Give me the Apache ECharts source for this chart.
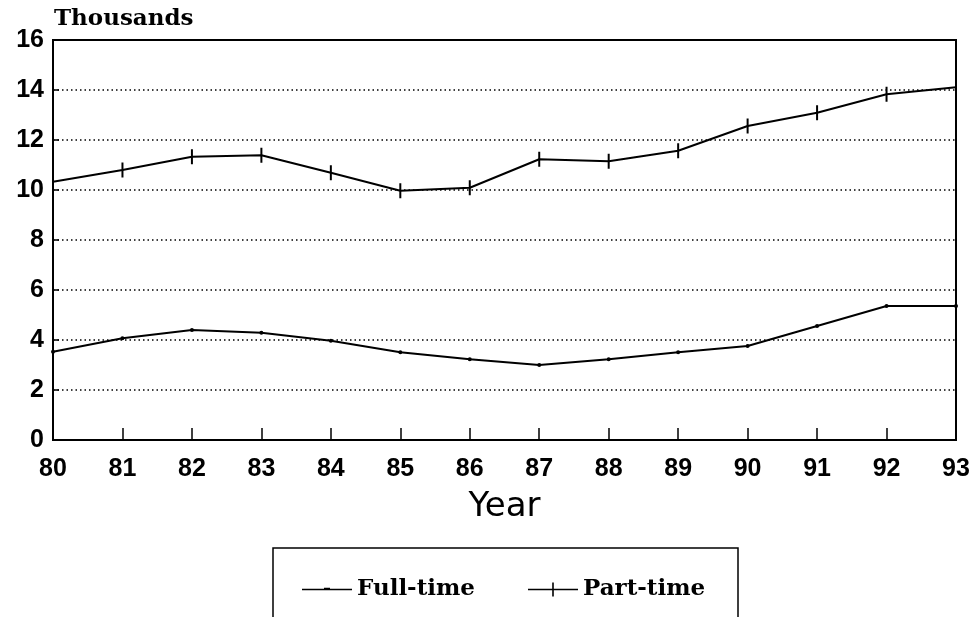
<!DOCTYPE html>
<html>
<head>
<meta charset="utf-8">
<script src="https://cdn.jsdelivr.net/npm/echarts@6/dist/echarts.min.js"></script>
<style>
  html, body { margin: 0; padding: 0; background: #fff; }
  #chart { width: 973px; height: 617px; }
</style>
</head>
<body>
<div id="chart"></div>
<script>
  // years 80..93, values in thousands
  var years = [80, 81, 82, 83, 84, 85, 86, 87, 88, 89, 90, 91, 92, 93];
  var fullTime = [3.53, 4.07, 4.4, 4.29, 3.97, 3.51, 3.23, 3.0, 3.23, 3.51, 3.76, 4.56, 5.36, 5.36];
  var partTime = [10.33, 10.8, 11.33, 11.39, 10.69, 9.97, 10.09, 11.23, 11.15, 11.57, 12.56, 13.09, 13.83, 14.11];
  var yTicks = [0, 2, 4, 6, 8, 10, 12, 14, 16];

  var myChart = echarts.init(document.getElementById('chart'));

  function pairs(vals) {
    return years.map(function (y, i) { return [y, vals[i]]; });
  }

  // legend icons: line + small dot / line + vertical tick (50x14 box)
  var fullIcon = 'path://M0,0L0.01,0L0,0.01Z M0,14L0.01,14L0,13.99Z M0,6.2L50,6.2L50,7.8L0,7.8Z M22,5.2L28,5.2L28,6.2L22,6.2Z';
  var partIcon = 'path://M0,6.2L50,6.2L50,7.8L0,7.8Z M24.2,0L25.8,0L25.8,14L24.2,14Z';

  var option = {
    backgroundColor: '#fff',
    animation: false,
    title: {
      text: 'Thousands',
      left: 49,
      top: 3,
      textStyle: { fontFamily: 'DejaVu Serif', fontWeight: 'bold', fontSize: 23, color: '#000' }
    },
    grid: {
      left: 53, right: 17, top: 40, bottom: 177,
      show: true, borderColor: '#000', borderWidth: 2, backgroundColor: 'transparent'
    },
    xAxis: {
      type: 'value',
      min: years[0], max: years[years.length - 1], interval: 1,
      name: 'Year',
      nameLocation: 'middle',
      nameGap: 50,
      nameTextStyle: { fontFamily: 'DejaVu Sans', fontSize: 34, color: '#000' },
      axisLine: { show: true, onZero: false, lineStyle: { color: '#000', width: 2 } },
      axisTick: { show: true, inside: true, length: 12, lineStyle: { color: '#000', width: 1.5 } },
      axisLabel: { margin: 17, fontFamily: 'Liberation Sans', fontWeight: 'bold', fontSize: 25, color: '#000' },
      splitLine: { show: false }
    },
    yAxis: {
      type: 'value',
      min: yTicks[0], max: yTicks[yTicks.length - 1], interval: 2,
      axisLine: { show: true, lineStyle: { color: '#000', width: 2 } },
      axisTick: { show: true, inside: true, length: 6, lineStyle: { color: '#000', width: 1.5 } },
      axisLabel: { margin: 9, fontFamily: 'Liberation Sans', fontWeight: 'bold', fontSize: 25, color: '#000' },
      splitLine: { show: true, lineStyle: { color: '#000', width: 1.5, type: [1.5, 3] } }
    },
    legend: {
      left: 297,
      top: 573,
      itemWidth: 50,
      itemHeight: 14,
      itemGap: 53,
      textStyle: { fontFamily: 'DejaVu Serif', fontWeight: 'bold', fontSize: 23, color: '#000' },
      data: [
        { name: 'Full-time', icon: fullIcon },
        { name: 'Part-time', icon: partIcon }
      ]
    },
    graphic: [{
      type: 'rect',
      shape: { x: 273, y: 548, width: 465, height: 100 },
      style: { fill: 'none', stroke: '#000', lineWidth: 1.5 },
      silent: true
    }],
    series: [
      {
        name: 'Full-time',
        type: 'line',
        data: pairs(fullTime),
        symbol: 'circle',
        symbolSize: 4,
        showAllSymbol: true,
        lineStyle: { color: '#000', width: 2 },
        itemStyle: { color: '#000' }
      },
      {
        name: 'Part-time',
        type: 'line',
        data: pairs(partTime),
        symbol: 'rect',
        symbolSize: [2, 15],
        showAllSymbol: true,
        lineStyle: { color: '#000', width: 2 },
        itemStyle: { color: '#000' }
      }
    ]
  };
  option && myChart.setOption(option);
</script>
</body>
</html>
